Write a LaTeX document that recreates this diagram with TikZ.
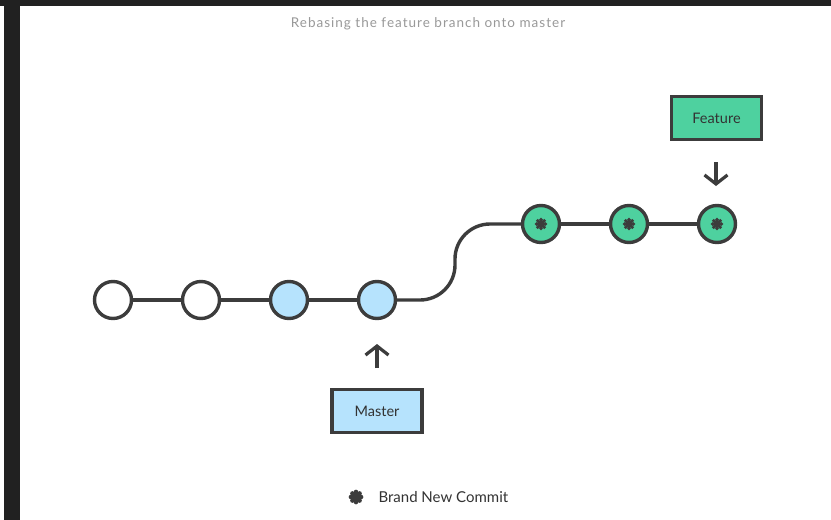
\documentclass[tikz,border=0pt]{standalone}
\usepackage{fontspec}
\setmainfont{Lato}
\newfontfamily\titlefont[LetterSpace=7.5]{Lato}
\usetikzlibrary{arrows.meta,calc}
\definecolor{ink}{HTML}{3C3C3C}
\definecolor{frame}{HTML}{212121}
\definecolor{mint}{HTML}{4ED19F}
\definecolor{sky}{HTML}{B6E3FD}
\definecolor{caption}{HTML}{999999}
\definecolor{label}{HTML}{333333}
\tikzset{
  commit/.style={circle, draw=ink, line width=3.4pt, minimum size=37pt, inner sep=0pt},
  oldcommit/.style={commit, fill=white},
  basecommit/.style={commit, fill=sky},
  newcommit/.style={commit, fill=mint},
  branchbox/.style={rectangle, draw=ink, line width=3.2pt, minimum width=90pt, minimum height=43pt, inner sep=0pt, font=\fontsize{14.5pt}{16pt}\selectfont, text=label},
  link/.style={draw=ink, line width=3.4pt},
  pointer/.style={draw=ink, line width=3.2pt, -{Straight Barb[length=9pt, width=23pt, line width=3.2pt]}},
}
% the cog-shaped "new commit" mark
\newcommand\cogmark[2]{%
  \fill[ink] (#1) circle (#2*0.62);
  \foreach \a in {0,45,...,315}
    \fill[ink] ($(#1)+(\a:#2*0.68)$) circle (#2*0.3);
}
\begin{document}
\begin{tikzpicture}[x=1pt, y=-1pt]
  \useasboundingbox (0,0) rectangle (831,520);
  \fill[white] (0,0) rectangle (831,520);
  % window frame
  \fill[frame] (0,0) rectangle (831,6);
  \fill[frame] (4,0) rectangle (20,520);

  \node[text=caption, font=\titlefont\fontsize{13.5pt}{15pt}\selectfont] (title) at (428,24) {Rebasing the feature branch onto master};

  % master history
  \node[oldcommit]  (c1) at (113,300) {};
  \node[oldcommit]  (c2) at (201,300) {};
  \node[basecommit] (c3) at (289,300) {};
  \node[basecommit] (c4) at (377,300) {};
  % rebased feature commits
  \node[newcommit] (f1) at (541,224) {};
  \node[newcommit] (f2) at (629,224) {};
  \node[newcommit] (f3) at (717,224) {};

  \path[link] (c1) -- (c2);
  \path[link] (c2) -- (c3);
  \path[link] (c3) -- (c4);
  \path[link] (f1) -- (f2);
  \path[link] (f2) -- (f3);
  \path[link] (c4.east) -- (420,300)
     .. controls (439.3,300) and (455,284.3) .. (455,265)
     -- (455,259)
     .. controls (455,239.7) and (470.7,224) .. (490,224)
     -- (f1.west);

  \cogmark{f1}{6.6pt}
  \cogmark{f2}{6.6pt}
  \cogmark{f3}{6.6pt}

  % branch labels
  \node[branchbox, fill=mint] (feature) at (716.5,118) {Feature};
  \node[branchbox, fill=sky]  (master)  at (377,411) {Master};
  \coordinate (ftail) at (716,162);
  \coordinate (fhead) at (716,186);
  \coordinate (mtail) at (377,368);
  \coordinate (mhead) at (377,344);
  \draw[pointer] (ftail) -- (fhead);
  \draw[pointer] (mtail) -- (mhead);

  % legend
  \coordinate (legendmark) at (356,497);
  \cogmark{legendmark}{7.5pt}
  \node[anchor=west, text=label, font=\fontsize{15pt}{17pt}\selectfont] (legend) at (375,497.5) {Brand New Commit};
\end{tikzpicture}
\end{document}
